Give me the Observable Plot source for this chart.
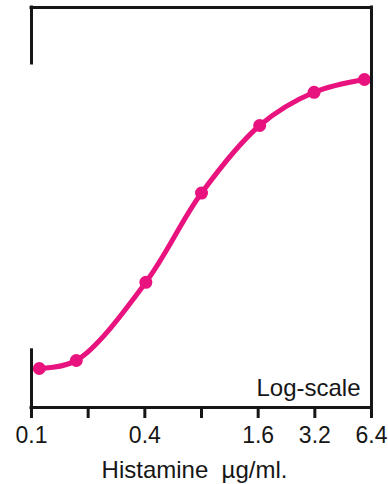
<!DOCTYPE html>
<html><head><meta charset="utf-8">
<script src="https://cdn.jsdelivr.net/npm/d3@7"></script>
<script src="https://cdn.jsdelivr.net/npm/@observablehq/plot@0.6"></script>
<style>body{margin:0;background:#fff}</style>
</head><body><div id="chart"></div>
<script>
// Histamine dose (µg/ml, log scale)
const dose = [0.11, 0.173, 0.405, 0.8, 1.63, 3.17, 5.87];
// Response (arbitrary units, 0–100 frame height)
const response = [9.75, 11.75, 31.3, 53.6, 70.5, 78.8, 82];
const tickValues = [0.1, 0.2, 0.4, 0.8, 1.6, 3.2, 6.4];
const tickLabels = ["0.1", "", "0.4", "", "1.6", "3.2", "6.4"];
const xLabel = "Histamine\u00a0\u00a0µg/ml.";
const scaleNote = "Log-scale";
const xDomain = [0.1, 6.4];
const yDomain = [0, 100];
const axisBreak = [14.3, 86]; // gap of the left axis, in response units

const data = dose.map((d, i) => ({dose: d, response: response[i]}));
const ticks = tickValues.map((v, i) => ({value: v, label: tickLabels[i]}));
const pink = "#e8137e";
const ink = "#161616";

const chart = Plot.plot({
  width: 388,
  height: 484,
  marginLeft: 31,
  marginRight: 17,
  marginTop: 7,
  marginBottom: 77,
  style: {fontFamily: "Liberation Sans, Arial, sans-serif", color: ink, background: "#fff"},
  x: {type: "log", domain: xDomain},
  y: {domain: yDomain, axis: null},
  marks: [
    Plot.line(data, {x: "dose", y: "response", curve: "catmull-rom", stroke: pink, strokeWidth: 5}),
    Plot.dot(data, {x: "dose", y: "response", r: 6.5, fill: pink, stroke: "none"}),
    Plot.axisX(tickValues, {tickSize: 11, strokeWidth: 3, tickFormat: () => "", label: null}),
    Plot.text(ticks, {x: "value", text: "label", frameAnchor: "bottom", lineAnchor: "bottom", dy: 35, fontSize: 23, fill: ink}),
    Plot.ruleY([yDomain[1]], {x1: xDomain[0], x2: xDomain[1], stroke: ink, strokeWidth: 3, strokeLinecap: "square"}),
    Plot.ruleY([yDomain[0]], {x1: xDomain[0], x2: xDomain[1], stroke: ink, strokeWidth: 3, strokeLinecap: "square"}),
    Plot.ruleX([xDomain[1]], {y1: yDomain[0], y2: yDomain[1], stroke: ink, strokeWidth: 3, strokeLinecap: "square"}),
    Plot.ruleX([xDomain[0]], {y1: yDomain[0], y2: axisBreak[0], stroke: ink, strokeWidth: 3, strokeLinecap: "square"}),
    Plot.ruleX([xDomain[0]], {y1: axisBreak[1], y2: yDomain[1], stroke: ink, strokeWidth: 3, strokeLinecap: "square"}),
    Plot.text([scaleNote], {frameAnchor: "bottom-right", textAnchor: "end", lineAnchor: "bottom", dx: -11, dy: -12, fontSize: 24, fill: ink}),
    Plot.text([xLabel], {frameAnchor: "bottom", lineAnchor: "bottom", dx: -7, dy: 70, fontSize: 24, fill: ink})
  ]
});
document.getElementById("chart").append(chart);
</script>
</body></html>
